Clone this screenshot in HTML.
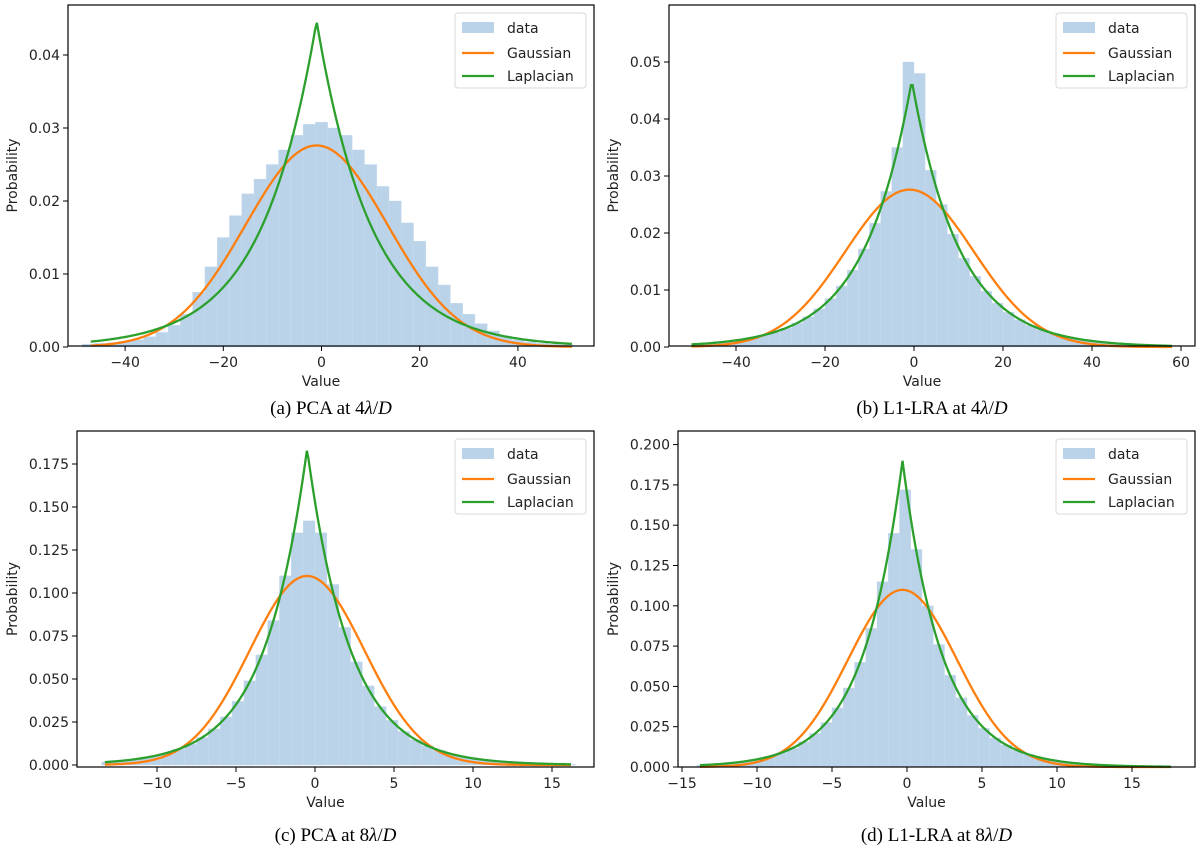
<!DOCTYPE html>
<html><head><meta charset="utf-8">
<style>
body{margin:0;background:#fff;}
svg{display:block;font-family:"DejaVu Sans","Liberation Sans",sans-serif;}
.cap{font-family:"Liberation Serif",serif;font-size:19px;}
</style></head>
<body>
<svg id="fig" width="1200" height="846" viewBox="0 0 1200 846"></svg>
<script>
// ---- data ----
const histStartA = -48.75, histWidthA = 2.5;
const histA = [0.0004,0.0005,0.0006,0.0008,0.001,0.0014,0.002,0.003,0.0045,0.0075,0.011,0.015,0.018,0.021,0.023,0.025,0.027,0.029,0.0305,0.0308,0.030,0.029,0.027,0.025,0.022,0.020,0.017,0.0145,0.011,0.0085,0.006,0.0045,0.0032,0.0022,0.0015,0.001,0.0007,0.0005,0.0004,0.0003];
const histStartB = -50, histWidthB = 2.5;
const histB = [0.0005,0.00065,0.0008,0.001,0.0013,0.0017,0.0021,0.0026,0.0033,0.0042,0.0053,0.0067,0.0085,0.0107,0.0135,0.0172,0.0217,0.0273,0.035,0.050,0.048,0.031,0.025,0.0198,0.0156,0.0124,0.0098,0.0077,0.0061,0.0048,0.0038,0.003,0.0024,0.0019,0.0015,0.0012,0.0009,0.0007,0.00058,0.00046,0.00036,0.00028,0.00022];
const histStartC = -13.5, histWidthC = 0.75;
const histC = [0.0018,0.0023,0.0031,0.0041,0.0053,0.007,0.0093,0.0122,0.016,0.021,0.028,0.037,0.049,0.064,0.084,0.11,0.135,0.142,0.135,0.105,0.08,0.06,0.046,0.034,0.026,0.0195,0.0147,0.0112,0.0085,0.0065,0.0049,0.0037,0.0028,0.0021,0.0016,0.0012,0.0009,0.0007,0.0005,0.0004];
const histStartD = -14, histWidthD = 0.75;
const histD = [0.0012,0.0016,0.0021,0.0028,0.0037,0.005,0.0066,0.0088,0.0117,0.0156,0.0208,0.0276,0.0367,0.049,0.065,0.086,0.115,0.145,0.172,0.135,0.10,0.076,0.057,0.043,0.032,0.024,0.018,0.0137,0.0103,0.0077,0.0058,0.0044,0.0033,0.0025,0.0019,0.0014,0.001,0.0008,0.0006,0.00045,0.00034,0.00025];
// fit parameters: [mean, sigma] and [loc, scale], ranges
const gaussA = [-1, 14.45], laplA = [-1, 11.2], rangeA = [-47, 51];
const gaussB = [-1, 14.45], laplB = [-0.5, 10.7], rangeB = [-50, 58];
const gaussC = [-0.5, 3.63], laplC = [-0.5, 2.72], rangeC = [-13.3, 16.2];
const gaussD = [-0.3, 3.63], laplD = [-0.3, 2.63], rangeD = [-13.8, 17.6];
const xTicksA = [-40,-20,0,20,40], yTicksA = [0,0.01,0.02,0.03,0.04], yLabA = ["0.00","0.01","0.02","0.03","0.04"];
const xTicksB = [-40,-20,0,20,40,60], yTicksB = [0,0.01,0.02,0.03,0.04,0.05], yLabB = ["0.00","0.01","0.02","0.03","0.04","0.05"];
const xTicksC = [-10,-5,0,5,10,15], yTicksC = [0,0.025,0.05,0.075,0.1,0.125,0.15,0.175], yLabC = ["0.000","0.025","0.050","0.075","0.100","0.125","0.150","0.175"];
const xTicksD = [-15,-10,-5,0,5,10,15], yTicksD = [0,0.025,0.05,0.075,0.1,0.125,0.15,0.175,0.2], yLabD = ["0.000","0.025","0.050","0.075","0.100","0.125","0.150","0.175","0.200"];

const NS="http://www.w3.org/2000/svg";
const svg=document.getElementById('fig');
function mk(tag,attrs,parent){const e=document.createElementNS(NS,tag);for(const k in attrs)e.setAttribute(k,attrs[k]);(parent||svg).appendChild(e);return e;}

const panels=[
 {id:'a',L:68,R:594,T:5,B:346,x0:321.5,xs:4.91,y0:347,ys:7300,hs:histStartA,hw:histWidthA,h:histA,g:gaussA,l:laplA,r:rangeA,xt:xTicksA,yt:yTicksA,yl:yLabA,cap:'PCA',n:'4',lab:12},
 {id:'b',L:669,R:1195,T:5,B:346,x0:914,xs:4.45,y0:347,ys:5700,hs:histStartB,hw:histWidthB,h:histB,g:gaussB,l:laplB,r:rangeB,xt:xTicksB,yt:yTicksB,yl:yLabB,cap:'L1-LRA',n:'4',lab:613},
 {id:'c',L:77,R:594,T:431,B:767,x0:315,xs:15.8,y0:765,ys:1720,hs:histStartC,hw:histWidthC,h:histC,g:gaussC,l:laplC,r:rangeC,xt:xTicksC,yt:yTicksC,yl:yLabC,cap:'PCA',n:'8',lab:12},
 {id:'d',L:678,R:1195,T:431,B:767,x0:907,xs:15.0,y0:767,ys:1612,hs:histStartD,hw:histWidthD,h:histD,g:gaussD,l:laplD,r:rangeD,xt:xTicksD,yt:yTicksD,yl:yLabD,cap:'L1-LRA',n:'8',lab:613}
];

panels.forEach(p=>{
  const X=v=>p.x0+v*p.xs, Y=v=>p.y0-v*p.ys;
  const g=mk('g',{});
  
  
  p.h.forEach((v,i)=>{
    const x1=X(p.hs+i*p.hw), x2=X(p.hs+(i+1)*p.hw);
    const b=mk('rect',{x:x1,y:Y(v),width:x2-x1,height:p.y0-Y(v),fill:'#bad3e9',stroke:'#c9dcee','stroke-width':0.4},g);
    
    
  });
  function curve(fn,color,name){
    let d='';const N=300;
    for(let i=0;i<=N;i++){const v=p.r[0]+(p.r[1]-p.r[0])*i/N;d+=(i?'L':'M')+X(v).toFixed(2)+','+Y(fn(v)).toFixed(2);}
    const c=mk('path',{d:d,fill:'none',stroke:color,'stroke-width':2.3},g);
    
    
  }
  curve(v=>Math.exp(-0.5*((v-p.g[0])/p.g[1])**2)/(p.g[1]*Math.sqrt(2*Math.PI)),'#ff7f0e','gaussian-curve');
  curve(v=>Math.exp(-Math.abs(v-p.l[0])/p.l[1])/(2*p.l[1]),'#2ca02c','laplacian-curve');
  const fr=mk('rect',{x:p.L,y:p.T,width:p.R-p.L,height:p.B-p.T,fill:'none',stroke:'#000','stroke-width':1.2},g);
  
  
  p.xt.forEach(t=>{
    mk('line',{x1:X(t),x2:X(t),y1:p.B,y2:p.B+5,stroke:'#000','stroke-width':1},g);
    const tx=mk('text',{x:X(t),y:p.B+21,'text-anchor':'middle','font-size':14,fill:'#222'},g);
    tx.textContent=(t<0?'\u2212'+(-t):''+t);
    
    
  });
  p.yt.forEach((t,i)=>{
    mk('line',{x1:p.L-5,x2:p.L,y1:Y(t),y2:Y(t),stroke:'#000','stroke-width':1},g);
    const tx=mk('text',{x:p.L-8,y:Y(t)+5,'text-anchor':'end','font-size':14,fill:'#222'},g);
    tx.textContent=p.yl[i];
    
    
  });
  const xl=mk('text',{x:(p.L+p.R)/2-10,y:p.B+40,'text-anchor':'middle','font-size':14,fill:'#222'},g);
  xl.textContent='Value';
  
  
  const yc=(p.T+p.B)/2;
  const yl=mk('text',{x:p.lab+5,y:yc,'text-anchor':'middle','font-size':14,fill:'#222',transform:`rotate(-90 ${p.lab+5} ${yc})`},g);
  yl.textContent='Probability';
  
  
  const lx=p.R-139, ly=p.T+8;
  const lg=mk('g',{},g);
  
  
  mk('rect',{x:lx,y:ly,width:131,height:75,rx:3,fill:'#fff','fill-opacity':0.85,stroke:'#d8d8d8'},lg);
  mk('rect',{x:lx+7,y:ly+9,width:32,height:11,fill:'#bad3e9'},lg);
  mk('line',{x1:lx+7,x2:lx+39,y1:ly+40,y2:ly+40,stroke:'#ff7f0e','stroke-width':2.3},lg);
  mk('line',{x1:lx+7,x2:lx+39,y1:ly+63,y2:ly+63,stroke:'#2ca02c','stroke-width':2.3},lg);
  [['data',20],['Gaussian',45],['Laplacian',68]].forEach(([s,dy])=>{
    const t=mk('text',{x:lx+52,y:ly+dy,'font-size':14,fill:'#222'},lg);t.textContent=s;
    
    
  });
  const cy=p.id<'c'?414:841;
  const cap=mk('text',{x:(p.L+p.R)/2,y:cy,'text-anchor':'middle',class:'cap',fill:'#000'},g);
  cap.innerHTML=`(${p.id}) ${p.cap} at ${p.n}<tspan font-style="italic">λ</tspan>/<tspan font-style="italic">D</tspan>`;
  
  
});
</script>
</body></html>
